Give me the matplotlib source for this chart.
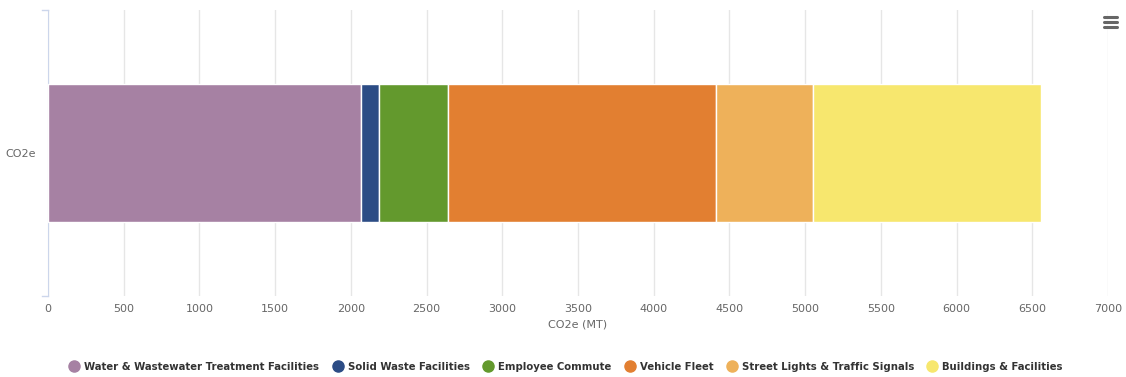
import matplotlib
matplotlib.use("Agg")
import matplotlib.pyplot as plt
from matplotlib.lines import Line2D

# Emissions by source, CO2e (MT)
categories = ["CO2e"]
series_names = [
    "Water & Wastewater Treatment Facilities",
    "Solid Waste Facilities",
    "Employee Commute",
    "Vehicle Fleet",
    "Street Lights & Traffic Signals",
    "Buildings & Facilities",
]
series_values = [2067, 121, 451, 1775, 640, 1501]
colors = ["#a681a3", "#2c4c85", "#63992d", "#e27f31", "#eeb15a", "#f7e76e"]
x_ticks = list(range(0, 7001, 500))

W, H = 1126, 377
fig = plt.figure(figsize=(W / 100, H / 100), dpi=100)
ax = fig.add_axes([48 / W, 1 - 296 / H, (1108 - 48) / W, (296 - 10) / H])

left = 0
for name, val, col in zip(series_names, series_values, colors):
    ax.barh(0, val, left=left, height=0.48, color=col, edgecolor="white",
            linewidth=1, label=name, zorder=3)
    left += val

ax.set_xlim(0, 7000)
ax.set_ylim(-0.5, 0.5)
ax.set_xticks(x_ticks)
ax.set_xticklabels([str(t) for t in x_ticks], fontsize=8, color="#666666")
ax.set_yticks([0])
ax.set_yticklabels(categories, fontsize=8, color="#666666")
ax.tick_params(axis="x", length=0, pad=6)
ax.tick_params(axis="y", length=0, pad=9)
ax.grid(axis="x", color="#e6e6e6", linewidth=1, zorder=0)
for s in ["top", "right", "bottom"]:
    ax.spines[s].set_visible(False)
ax.spines["left"].set_color("#ccd6eb")
ax.set_xlabel("CO2e (MT)", fontsize=8, color="#666666", labelpad=4)

# category axis end ticks
for yy in (0, 1):
    ax.plot([-0.006, 0], [yy, yy], transform=ax.transAxes,
            color="#ccd6eb", lw=1, clip_on=False)

# hamburger menu icon
for yy in (17, 22, 27):
    fig.add_artist(Line2D([1104 / W, 1117 / W], [1 - yy / H, 1 - yy / H],
                          color="#666666", lw=2.2, solid_capstyle="round"))

handles = [Line2D([0], [0], marker="o", linestyle="", markersize=8,
                  markerfacecolor=c, markeredgecolor=c) for c in colors]
leg = fig.legend(handles, series_names, loc="center", bbox_to_anchor=(566 / W, 1 - 367 / H),
                 ncol=6, frameon=False, handletextpad=0.5, columnspacing=1.3,
                 handlelength=1.0, prop={"size": 7.3, "weight": "bold"})
for t in leg.get_texts():
    t.set_color("#333333")

fig.savefig("out.png", dpi=100)
